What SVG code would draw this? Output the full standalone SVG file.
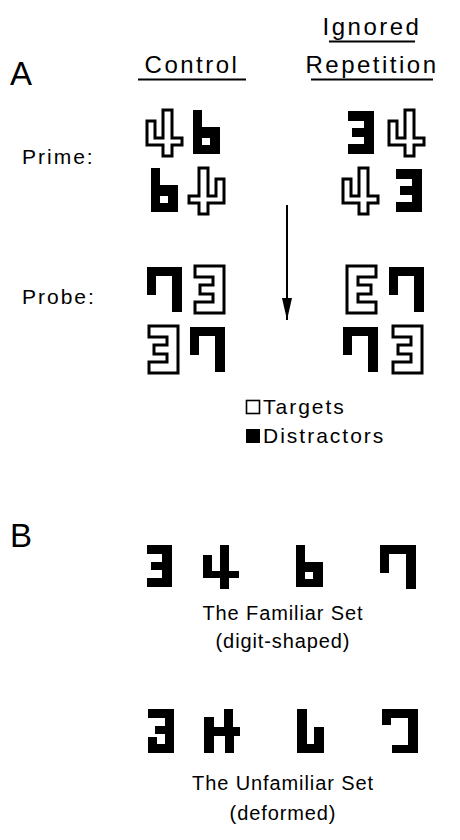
<svg xmlns="http://www.w3.org/2000/svg" width="460" height="840" viewBox="0 0 460 840">
<style>
text{font-family:"Liberation Sans",Arial,sans-serif;fill:#000}
.panel{font-size:33px}
.head{font-size:24px;letter-spacing:2.5px}
.row{font-size:21px;letter-spacing:2px}
.leg{font-size:21px;letter-spacing:2px}
.cap{font-size:20px;letter-spacing:0.9px;text-anchor:middle}
.ul{stroke:#000;stroke-width:2}
.f{fill:#000;stroke:none}
.o{fill:#fff;stroke:#000;stroke-width:3;stroke-linejoin:miter}
.conn{stroke:#000;stroke-width:2;fill:none}
</style>
<defs>
<path id="g3" d="M0,0H26V43H0V33H16V26H4V17H16V10H0Z"/>
<path id="g3o" d="M0,0H29V47H0V36H18V28H5V19H18V11H0Z"/>
<path id="g4" d="M0,11H8V28H16V0H25V28H35V35H25V46H16V35H0Z"/>
<path id="gb" fill-rule="evenodd" d="M0,0H9V17H27V44H0Z M9,28H17V35H9Z"/>
<path id="g7" d="M0,0H35V45H25V9H9V28H0Z"/>
<path id="f3" d="M0,0H25V42H0V33H15V25H4V17H15V9H0Z"/>
<path id="f4" d="M0,10H9V26H17V0H26V26H36V33H26V44H17V33H0Z"/>
<path id="fb" fill-rule="evenodd" d="M0,0H9V17H27V42H0Z M9,27H17V34H9Z"/>
<path id="f7" d="M0,0H36V44H26V9H9V28H0Z"/>
<path id="u3" d="M0,0H26V44H0V28H9V35H17V25H7V17H17V9H0Z"/>
<path id="u4" d="M0,8H10V18H20V0H29V18H36V27H30V44H21V27H10V44H0Z"/>
<path id="ub" d="M0,0H10V35H17V18H27V44H0Z"/>
<path id="u7" d="M0,0H36V44H10V36H26V9H9V16H0Z"/>
<marker id="ah" viewBox="0 0 22 10" refX="22" refY="5" markerWidth="22" markerHeight="10" markerUnits="userSpaceOnUse" orient="auto">
<path d="M0,0L22,5L0,10Z" fill="#000"/>
</marker>
</defs>

<g id="label-A"><text class="panel" x="10" y="85">A</text></g>
<g id="head-control">
<text class="head" x="192" y="73" text-anchor="middle">Control</text>
<line class="ul" x1="138" y1="79.5" x2="246" y2="79.5"/>
</g>
<g id="head-ignored">
<text class="head" x="372" y="35" text-anchor="middle">Ignored</text>
<line class="ul" x1="329" y1="41.5" x2="415" y2="41.5"/>
<text class="head" x="372" y="73" text-anchor="middle">Repetition</text>
<line class="ul" x1="311" y1="79.5" x2="433" y2="79.5"/>
</g>
<g id="label-prime"><text class="row" x="22" y="164">Prime:</text></g>
<g id="label-probe"><text class="row" x="22" y="304">Probe:</text></g>

<g id="control-prime">
<use href="#g4" class="o" transform="translate(147,110)"/>
<use href="#gb" class="f" transform="translate(193,110)"/>
<use href="#gb" class="f" transform="translate(151,168)"/>
<use href="#g4" class="o" transform="translate(224,168) scale(-1,1)"/>
</g>
<g id="repetition-prime">
<use href="#g3" class="f" transform="translate(348,111)"/>
<use href="#g4" class="o" transform="translate(389,110)"/>
<use href="#g4" class="o" transform="translate(343,168)"/>
<use href="#g3" class="f" transform="translate(396,169)"/>
</g>
<g id="control-probe">
<use href="#g7" class="f" transform="translate(147,267)"/>
<use href="#g3o" class="o" transform="translate(195,266)"/>
<use href="#g3o" class="o" transform="translate(149,326)"/>
<use href="#g7" class="f" transform="translate(190,327)"/>
</g>
<g id="repetition-probe">
<use href="#g3o" class="o" transform="translate(376,266) scale(-1,1)"/>
<use href="#g7" class="f" transform="translate(389,267)"/>
<use href="#g7" class="f" transform="translate(343,327)"/>
<use href="#g3o" class="o" transform="translate(393,326)"/>
</g>

<g id="connectors">
<line class="conn" x1="287" y1="205" x2="287" y2="320" marker-end="url(#ah)"/>
</g>

<g id="legend-targets">
<rect x="246.5" y="400.5" width="13" height="13" fill="#fff" stroke="#000" stroke-width="1.6"/>
<text class="leg" x="263" y="414">Targets</text>
</g>
<g id="legend-distractors">
<rect x="246" y="429" width="14" height="14" fill="#000"/>
<text class="leg" x="263" y="443">Distractors</text>
</g>

<g id="label-B"><text class="panel" x="10" y="547">B</text></g>
<g id="familiar-set">
<use href="#f3" class="f" transform="translate(147,545)"/>
<use href="#f4" class="f" transform="translate(203,545)"/>
<use href="#fb" class="f" transform="translate(296,545)"/>
<use href="#f7" class="f" transform="translate(380,545)"/>
<text class="cap" x="283" y="620">The Familiar Set</text>
<text class="cap" x="283" y="648">(digit-shaped)</text>
</g>
<g id="unfamiliar-set">
<use href="#u3" class="f" transform="translate(148,709)"/>
<use href="#u4" class="f" transform="translate(204,709)"/>
<use href="#ub" class="f" transform="translate(297,709)"/>
<use href="#u7" class="f" transform="translate(382,709)"/>
<text class="cap" x="283" y="790">The Unfamiliar Set</text>
<text class="cap" x="283" y="820">(deformed)</text>
</g>
</svg>
